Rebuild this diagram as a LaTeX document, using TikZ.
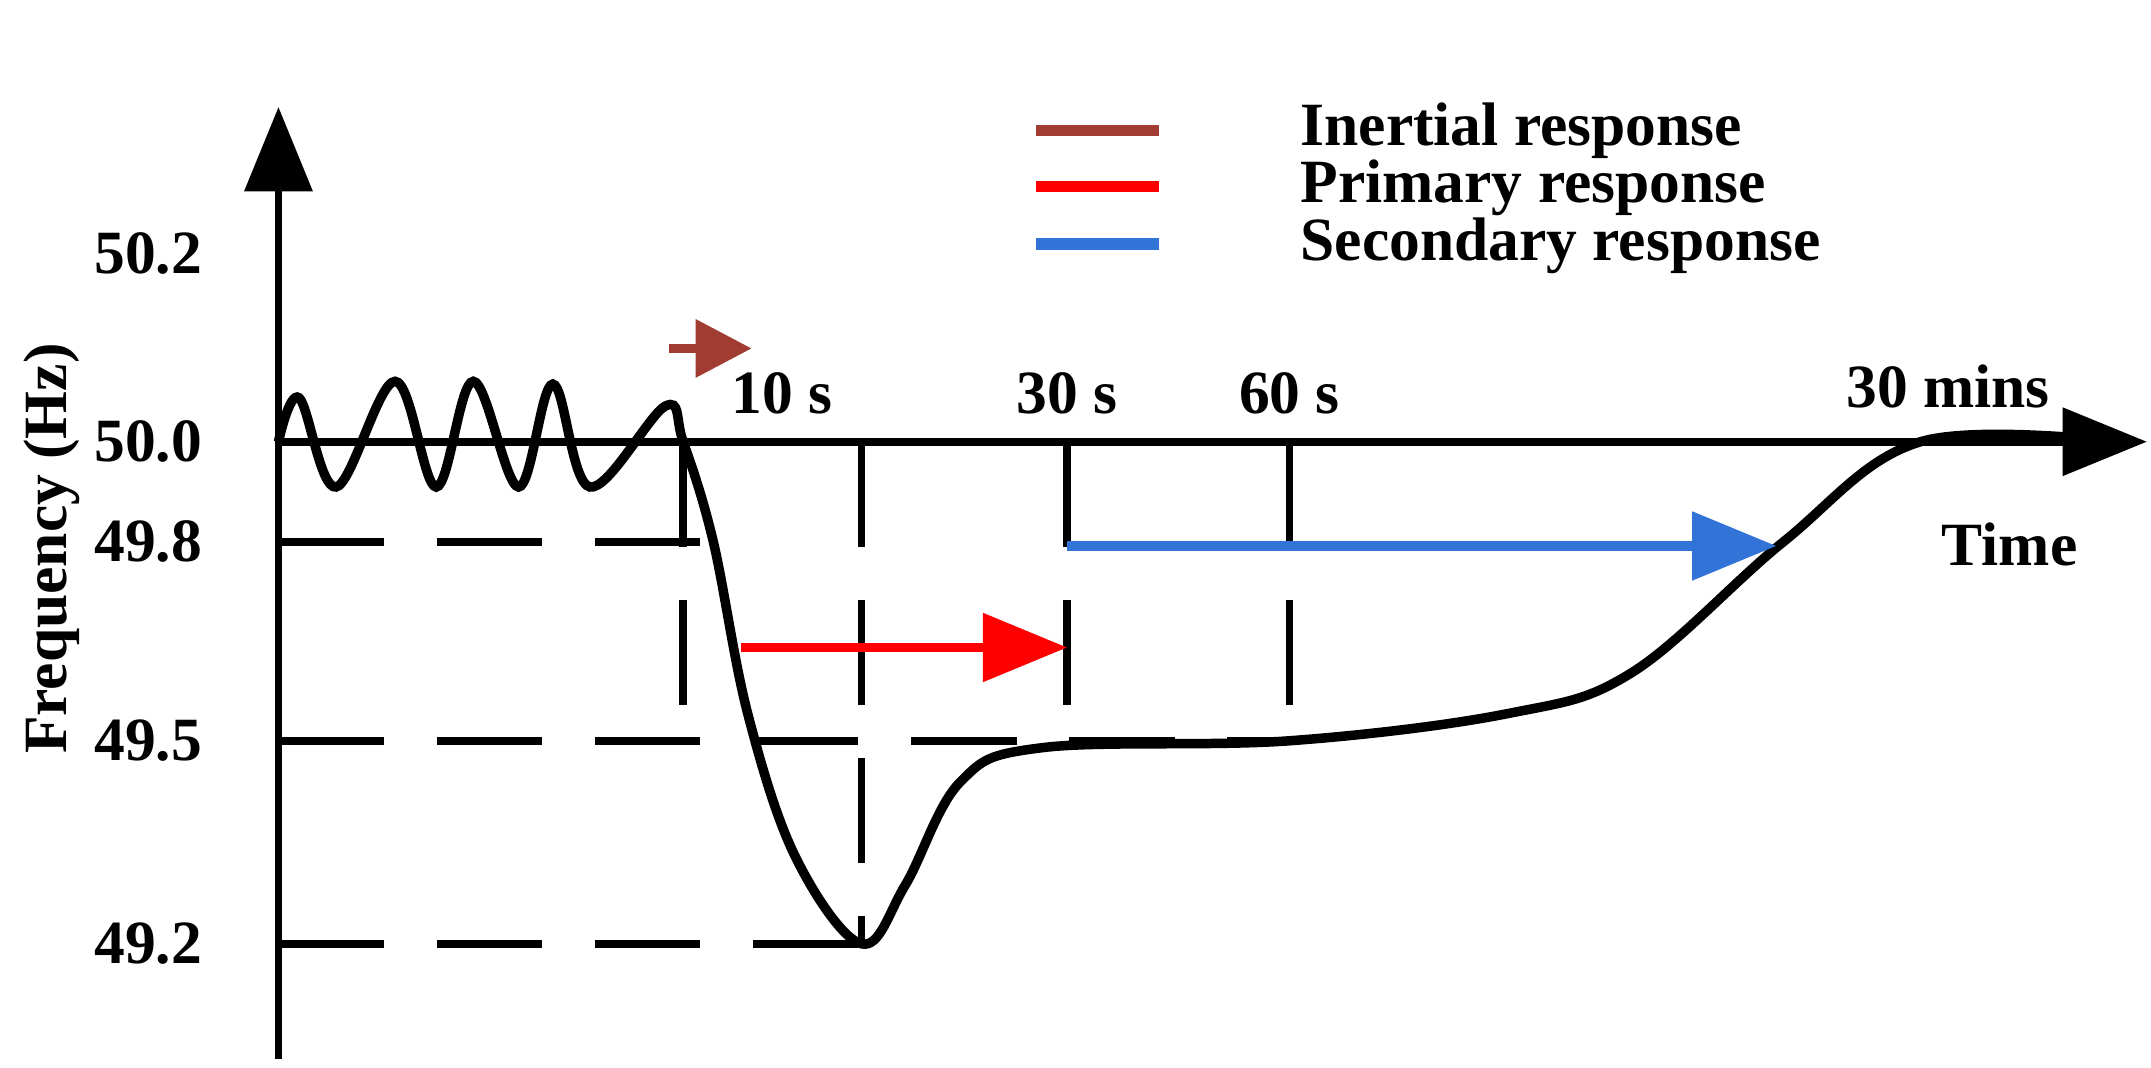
\documentclass[tikz,border=0pt]{standalone}
\usepackage{fontspec}
\setmainfont{Liberation Serif}
\usetikzlibrary{arrows.meta}
\begin{document}
\begin{tikzpicture}[x=0.01372cm,y=-0.01372cm,
  lab/.style={font=\fontsize{17.5}{20}\selectfont\bfseries},
  dsh/.style={line width=2.2pt,dash pattern=on 30pt off 15pt},
  ax/.style={line width=2.2pt,-{Triangle[length=24pt,width=19pt]}},
  resp/.style={line width=2.7pt,-{Triangle[length=24pt,width=19pt]}}]
\useasboundingbox (0,0) rectangle (1568,778);
\definecolor{brn}{RGB}{160,60,50}
\definecolor{blu}{RGB}{50,115,215}
% axes
\coordinate (yt) at (203,78);
\coordinate (o) at (203,772);
\coordinate (x0) at (203,322); \coordinate (xt) at (1565,322);
\draw[ax] (o) -- (yt);
\draw[ax] (x0) -- (xt);
% y labels
\foreach \v/\y in {50.2/185,50.0/322,49.8/395,49.5/540,49.2/688}
  \node[lab] at (108,\y) {\v};
\node[lab,rotate=90] (fl) at (38,400) {Frequency (Hz)};
% dashed
\draw[dsh] (203,395) -- (530,395);
\draw[dsh] (203,540) -- (940,540);
\draw[dsh] (203,688) -- (628,688);
\draw[dsh] (498,322) -- (498,525);
\draw[dsh] (628,322) -- (628,688);
\draw[dsh] (778,322) -- (778,525);
\draw[dsh] (940,322) -- (940,540);
% curve
\draw[line width=2.7pt] plot[smooth,tension=0.6] coordinates {(203,322)(218,290)(245,355)(288,278)(318,355)(345,278)(378,355)(403,280)(430,355)(485,296)(498,322)(520,395)(545,520)(580,625)(628,688)(660,645)(700,570)(760,545)(940,540)(1100,520)(1190,490)(1300,395)(1400,322)(1545,322)};
% tick labels
\node[lab] at (570,287) {10 s};
\node[lab] at (778,287) {30 s};
\node[lab] at (940,287) {60 s};
\node[lab] at (1420,282) {30 mins};
\node[lab] at (1465,397) {Time};
% arrows
\coordinate (ia) at (488,254); \coordinate (ib) at (548,254);
\draw[resp,brn,-{Triangle[length=16pt,width=16pt]}] (ia) -- (ib);
\coordinate (pa) at (540,472); \coordinate (pb) at (778,472);
\draw[resp,red] (pa) -- (pb);
\coordinate (sa) at (778,398); \coordinate (sb) at (1295,398);
\draw[resp,blu] (sa) -- (sb);
% legend
\draw[line width=3.3pt,brn] (755,95) -- (845,95);
\draw[line width=3.3pt,red] (755,136) -- (845,136);
\draw[line width=3.3pt,blu] (755,178) -- (845,178);
\node[lab,anchor=west,inner sep=1pt] at (945,95) {Inertial response};
\node[lab,anchor=west,inner sep=1pt] at (945,137) {Primary response};
\node[lab,anchor=west,inner sep=1pt] at (945,179) {Secondary response};
\end{tikzpicture}
\end{document}
